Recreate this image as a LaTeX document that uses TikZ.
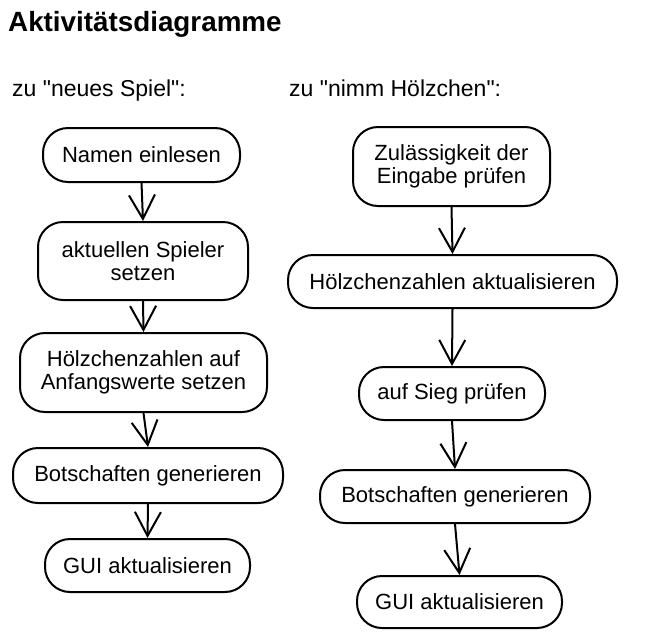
\documentclass[tikz,border=0pt]{standalone}
\usepackage{fontspec}
\setmainfont{Liberation Sans}[Ligatures=TeXOff]
\usetikzlibrary{arrows.meta}
\tikzset{
  act/.style={draw=black, line width=2pt, rounded corners=25pt, align=center,
    inner sep=0pt, font=\fontsize{22}{23.5}\selectfont},
  flow/.style={line width=2pt, -{Straight Barb[length=24pt,width=26pt,line width=2pt]}},
  lbl/.style={anchor=base west, inner sep=0pt}
}
\begin{document}
\begin{tikzpicture}[x=1pt,y=-1pt]
\useasboundingbox (0,0) rectangle (652,643);
\node[lbl, font=\fontsize{27.8}{30}\selectfont\bfseries] (title) at (8,31) {Aktivitätsdiagramme};
\node[lbl, font=\fontsize{23}{26}\selectfont] (h1) at (12,96) {zu "neues Spiel":};
\node[lbl, font=\fontsize{23}{26}\selectfont] (h2) at (289,96) {zu "nimm Hölzchen":};

\node[act, minimum width=197pt, minimum height=54pt] (L1) at (141.5,155) {Namen einlesen};
\node[act, minimum width=210pt, minimum height=78pt] (L2) at (143,261) {aktuellen Spieler\\setzen};
\node[act, minimum width=247pt, minimum height=79pt] (L3) at (143.5,372.5) {Hölzchenzahlen auf\\Anfangswerte setzen};
\node[act, minimum width=270pt, minimum height=55pt] (L4) at (148,475.5) {Botschaften generieren};
\node[act, minimum width=205pt, minimum height=53pt] (L5) at (147.5,565.5) {GUI aktualisieren};

\node[act, minimum width=197pt, minimum height=79pt] (R1) at (451.5,166.5) {Zulässigkeit der\\Eingabe prüfen};
\node[act, minimum width=329pt, minimum height=53pt] (R2) at (452.5,281.5) {Hölzchenzahlen aktualisieren};
\node[act, minimum width=186pt, minimum height=53pt] (R3) at (452,393.5) {auf Sieg prüfen};
\node[act, minimum width=270pt, minimum height=53pt] (R4) at (455,496.5) {Botschaften generieren};
\node[act, minimum width=205pt, minimum height=52pt] (R5) at (459.5,602) {GUI aktualisieren};

\draw[flow] (L1.south) -- (L2.north);
\draw[flow] (L2.south) -- (L3.north);
\draw[flow] (L3.south) -- (L4.north);
\draw[flow] (L4.south) -- (L5.north);
\draw[flow] (R1.south) -- (R2.north);
\draw[flow] (R2.south) -- (R3.north);
\draw[flow] (R3.south) -- (R4.north);
\draw[flow] (R4.south) -- (R5.north);
\end{tikzpicture}
\end{document}
